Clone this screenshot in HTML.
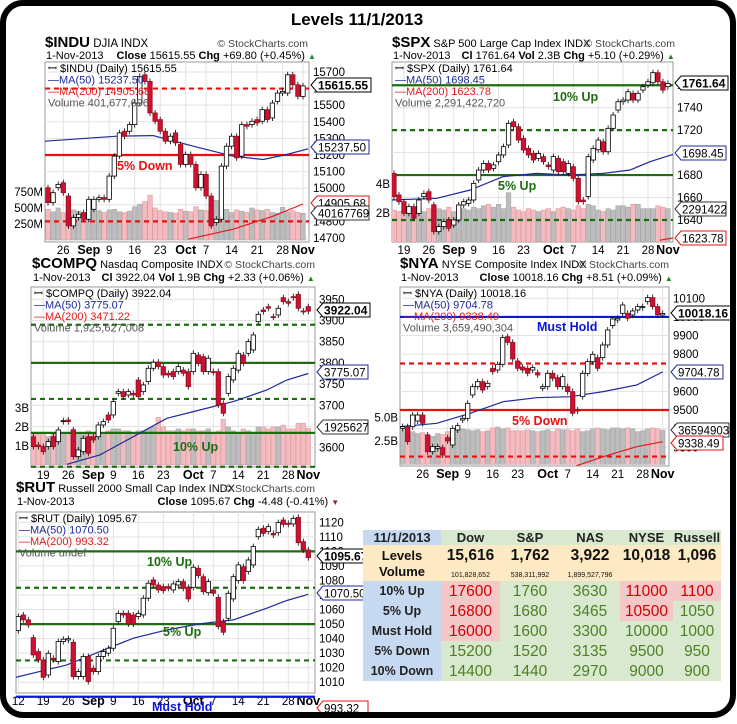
<!DOCTYPE html>
<html><head><meta charset="utf-8">
<style>
body{margin:0;background:#fff;width:737px;height:719px;overflow:hidden;font-family:"Liberation Sans",sans-serif}
#wrap{position:relative;width:737px;height:719px}
svg text{font-family:"Liberation Sans",sans-serif}
#tbl{position:absolute;left:363px;top:530px;width:358px;font-family:"Liberation Sans",sans-serif}
.row{display:flex}
.c{box-sizing:border-box;text-align:center;font-weight:bold}
.lab{width:78px;background:#c6d9f0;color:#222;font-size:12.5px}
.c1{width:59px}.c2{width:60px}.c3{width:60px}.c4{width:53px}.c5{width:48px}
.g{background:#d8e9d0;color:#4e7f23}
.p{background:#f4c8c8;color:#d00000}
.dr .c{height:20px;line-height:21px;font-size:15.5px;font-weight:normal}
.dr .lab{font-weight:bold;font-size:12.5px}
.hd .c{height:15px;line-height:16px;font-size:13px;background:#d8e9d0;color:#222}
.hd .lab{background:#c6d9f0}
.lv .c{height:36px;background:#fde9c4;color:#111}
</style></head><body>
<div id="wrap">
<svg id="s" width="737" height="719" viewBox="0 0 737 719">
<text x="357" y="25" text-anchor="middle" font-size="17" font-weight="bold">Levels 11/1/2013</text>

<g>
<text x="45" y="47" font-size="11.5"><tspan font-size="15" font-weight="bold">$INDU</tspan> DJIA  INDX</text>
<text x="308" y="47" font-size="10.5" text-anchor="end" fill="#444">© StockCharts.com</text>
<text x="46" y="59" font-size="11">1-Nov-2013 <tspan dx="10" font-weight="bold">Close</tspan> 15615.55 <tspan font-weight="bold">Chg</tspan> +69.80 (+0.45%) <tspan fill="#1a8a1a" font-size="8">▲</tspan></text>
</g>
<g>
<text x="392" y="47" font-size="11"><tspan font-size="15" font-weight="bold">$SPX</tspan> S&amp;P 500 Large Cap Index  INDX</text>
<text x="675" y="47" font-size="10.5" text-anchor="end" fill="#444">© StockCharts.com</text>
<text x="393" y="59" font-size="11">1-Nov-2013 <tspan dx="8" font-weight="bold">Cl</tspan> 1761.64 <tspan font-weight="bold">Vol</tspan> 2.3B <tspan font-weight="bold">Chg</tspan> +5.10 (+0.29%) <tspan fill="#1a8a1a" font-size="8">▲</tspan></text>
</g>
<g>
<text x="32" y="268" font-size="11"><tspan font-size="15" font-weight="bold">$COMPQ</tspan> Nasdaq Composite  INDX</text>
<text x="315" y="268" font-size="10.5" text-anchor="end" fill="#444">© StockCharts.com</text>
<text x="33" y="281" font-size="11">1-Nov-2013 <tspan dx="8" font-weight="bold">Cl</tspan> 3922.04 <tspan font-weight="bold">Vol</tspan> 1.9B <tspan font-weight="bold">Chg</tspan> +2.33 (+0.06%) <tspan fill="#1a8a1a" font-size="8">▲</tspan></text>
</g>
<g>
<text x="400" y="268" font-size="11"><tspan font-size="15" font-weight="bold">$NYA</tspan> NYSE Composite Index  INDX</text>
<text x="669" y="268" font-size="10.5" text-anchor="end" fill="#444">© StockCharts.com</text>
<text x="401" y="281" font-size="11">1-Nov-2013 <tspan dx="18" font-weight="bold">Close</tspan> 10018.16 <tspan font-weight="bold">Chg</tspan> +8.51 (+0.09%) <tspan fill="#1a8a1a" font-size="8">▲</tspan></text>
</g>
<g>
<text x="16" y="492" font-size="11"><tspan font-size="15" font-weight="bold">$RUT</tspan> Russell 2000 Small Cap Index  INDX</text>
<text x="315" y="492" font-size="10.5" text-anchor="end" fill="#444">© StockCharts.com</text>
<text x="17" y="505" font-size="11">1-Nov-2013 <tspan dx="80" font-weight="bold">Close</tspan> 1095.67 <tspan font-weight="bold">Chg</tspan> -4.48 (-0.41%) <tspan fill="#a0203a" font-size="8">▼</tspan></text>
</g>
<g id="indu"></g>
<g id="spx"></g>
<g id="compq"></g>
<g id="nya"></g>
<g id="rut"></g>
</svg>

<div id="tbl">
<div class="row hd"><div class="c lab">11/1/2013</div><div class="c c1">Dow</div><div class="c c2">S&amp;P</div><div class="c c3">NAS</div><div class="c c4">NYSE</div><div class="c c5">Russell</div></div>
<div class="row lv">
<div class="c lab" style="background:#fde9c4;font-size:13px;line-height:16px;padding-top:3px">Levels<br>Volume</div>
<div class="c c1"><div style="font-size:15.5px;margin-top:2px">15,616</div><div style="font-size:7px;font-weight:normal;margin-top:7px">101,828,652</div></div>
<div class="c c2"><div style="font-size:15.5px;margin-top:2px">1,762</div><div style="font-size:7px;font-weight:normal;margin-top:7px">538,311,992</div></div>
<div class="c c3"><div style="font-size:15.5px;margin-top:2px">3,922</div><div style="font-size:7px;font-weight:normal;margin-top:7px">1,899,527,796</div></div>
<div class="c c4"><div style="font-size:15.5px;margin-top:2px">10,018</div></div>
<div class="c c5"><div style="font-size:15.5px;margin-top:2px">1,096</div></div>
</div>
<div class="row dr"><div class="c lab">10% Up</div><div class="c c1 p">17600</div><div class="c c2 g">1760</div><div class="c c3 g">3630</div><div class="c c4 p">11000</div><div class="c c5 p">1100</div></div>
<div class="row dr"><div class="c lab">5% Up</div><div class="c c1 p">16800</div><div class="c c2 g">1680</div><div class="c c3 g">3465</div><div class="c c4 p">10500</div><div class="c c5 g">1050</div></div>
<div class="row dr"><div class="c lab">Must Hold</div><div class="c c1 p">16000</div><div class="c c2 g">1600</div><div class="c c3 g">3300</div><div class="c c4 g">10000</div><div class="c c5 g">1000</div></div>
<div class="row dr"><div class="c lab">5% Down</div><div class="c c1 g">15200</div><div class="c c2 g">1520</div><div class="c c3 g">3135</div><div class="c c4 g">9500</div><div class="c c5 g">950</div></div>
<div class="row dr"><div class="c lab">10% Down</div><div class="c c1 g">14400</div><div class="c c2 g">1440</div><div class="c c3 g">2970</div><div class="c c4 g">9000</div><div class="c c5 g">900</div></div>
</div>
</div>

<script>
// ---------- INDU data ----------
const induOpen=[15003,14913,15003,15033,14953,14773,14823,14853,14813,14873,14933,14943,14933,15073,15193,15343,15343,15383,15513,15683,15643,15453,15413,15343,15283,15333,15263,15143,15203,15143,15003,15083,14953,14793,14813,15133,15253,15313,15193,15383,15383,15413,15403,15473,15423,15523,15573,15573,15683,15623,15553];
const induClose=[14913,14973,15023,14973,14773,14823,14843,14813,14933,14933,14943,14933,15073,15193,15333,15313,15383,15513,15673,15643,15453,15403,15343,15283,15313,15273,15143,15203,15143,15003,15083,14953,14773,14813,15133,15253,15313,15183,15383,15373,15403,15393,15473,15413,15513,15573,15583,15683,15623,15553,15616];
const induVol=[480,440,500,430,540,470,450,430,520,500,460,430,470,480,440,430,450,520,560,600,700,500,460,440,430,420,480,450,440,520,470,460,560,620,580,480,430,470,450,430,500,470,460,480,430,420,510,440,460,430,417];
const induMaIdx=[-0.6,13.5,20.6,28.5,36.3,42.2,46.8,51];
const induMaVal=[15283,15313,15317,15253,15193,15173,15203,15237];
const induMa2Idx=[27.5,36.3,44,50];
const induMa2Val=[14693,14753,14830,14905];
const induDateIdx=[3,8,12,17,22,27,31,36,41,46,50];
const induDateLbl=["26","Sep","9","16","23","Oct","7","14","21","28","Nov"];
const induTicks=[14700,14800,14900,15000,15100,15200,15300,15400,15500,15600,15700];
const induLevels=[15600,15200,14800];
const induVolTicks=[250,500,750];
const induVolLbl=["250M","500M","750M"];

// ---------- SPX data ----------
const spxOpen=[1681.5,1662.3,1656.3,1645.9,1651.9,1645.9,1660.8,1665.2,1653.4,1629.6,1634.1,1640,1635.5,1640,1653.4,1654.8,1657.8,1675.6,1684.5,1690.4,1686,1691.9,1697.9,1706.8,1727.5,1723.1,1712.7,1703.8,1699.3,1694.9,1696.4,1689,1684.5,1694.9,1691.9,1681.5,1687.5,1677.1,1657.8,1661,1693.4,1702.5,1709.7,1700.8,1721.6,1737.9,1745.3,1746.8,1752.8,1746.8,1755.7,1760.2,1762.3,1771.2,1763.1,1758.7];
const spxClose=[1660.8,1656.3,1645.9,1651.9,1641.5,1657.8,1663.7,1657.8,1629.6,1634.1,1638.5,1632.6,1640,1653.4,1656.3,1657.8,1672.6,1684.5,1690.4,1684.5,1689,1697.9,1705.3,1726.1,1723.1,1711.2,1702.3,1697.9,1693.4,1699.3,1691.9,1687.5,1696.4,1683,1683,1690.4,1677.1,1656.3,1656.3,1696.4,1703.8,1711.2,1700.8,1721.6,1733.5,1745.3,1746.8,1754.2,1746.8,1752.8,1758.7,1763.1,1771.2,1763.1,1755.7,1761.64];
const spxVol=[2.2,2.1,2.3,2.2,2.4,2.2,2.1,2.3,2.6,2.3,2.2,2.4,2.1,2.2,2.3,2.2,2.4,2.3,2.5,2.6,2.4,2.6,2.3,3.4,2.4,2.2,2.1,2.3,2.2,2.1,2.2,2.3,2.1,2.3,2.4,2.3,2.2,2.5,2.3,2.6,2.5,2.2,2.1,2.3,2.2,2.5,2.5,2.4,2.6,2.6,2.3,2.3,2.3,2.5,2.4,2.3];
const spxMaIdx=[-0.5,8.6,15.3,21.9,28.7,35.3,42,47.4,51.4,56.1];
const spxMaVal=[1657.8,1659.3,1666.7,1678.6,1681.5,1680,1681.5,1684.5,1691.9,1698.5];
const spxMa2Idx=[53.4,56];
const spxMa2Val=[1622,1624];
const spxDateIdx=[2,7,12,16,21,26,32,36,41,46,51,55];
const spxDateLbl=["19","26","Sep","9","16","23","Oct","7","14","21","28","Nov"];
const spxTicks=[1640,1660,1680,1700,1720,1740,1760];
const spxLevels=[1760,1720,1680,1640];
const spxVolTicks=[2,4];
const spxVolLbl=["2B","4B"];

// ---------- COMPQ data ----------
const compqOpen=[3626,3606.4,3602.5,3602.5,3626,3614.3,3661.5,3665.4,3641.8,3579,3590.7,3626,3626,3626,3653.6,3677.2,3677.2,3728.3,3732.2,3724.4,3728.3,3759.7,3732.2,3755.8,3787.3,3802,3791.2,3775.5,3779.4,3779.4,3783,3779.4,3779.4,3818.7,3814.7,3779.4,3779.4,3779.4,3704.7,3728.3,3759.7,3783,3818.7,3822.6,3830.5,3897.3,3924.8,3932.7,3909.1,3913,3953.9,3944.5,3956.3,3961.8,3922.5,3932.7];
const compqClose=[3602.5,3602.5,3590.7,3614.3,3602.5,3641.8,3663.8,3661.5,3579,3594.7,3622.2,3586.8,3618.2,3653.6,3661.5,3665.4,3708.7,3732.2,3720.4,3732.2,3724.4,3720.4,3748,3787.3,3801.4,3791.2,3771.5,3771.5,3767.6,3791.2,3775.5,3744,3822.6,3799.1,3779.4,3811,3777.8,3700.8,3681.1,3767.6,3787.3,3822.6,3799.1,3850.1,3865.9,3914.6,3920.9,3928.8,3908.3,3928.8,3944.5,3940.6,3953.9,3928.8,3920.9,3922.04];
const compqVol=[1.7,1.6,1.6,1.5,1.7,1.6,1.7,1.6,1.9,1.7,1.6,1.8,1.7,1.6,1.7,1.8,1.9,1.9,1.8,1.8,1.7,1.8,1.8,1.9,2.0,2.5,2.0,1.8,1.8,1.9,1.8,1.9,1.9,1.8,1.8,1.9,1.7,1.8,2.4,2.0,1.8,1.7,1.9,1.8,1.6,2.0,2.0,1.9,2.0,2.0,2.1,1.9,1.9,2.2,2.2,1.93];
const compqMaIdx=[6.7,13.3,20,26.7,33.3,40,46.7,50.7,55];
const compqMaVal=[3560.8,3582.9,3626,3669.3,3689,3708.7,3736.2,3759.7,3775.1];
const compqMa2Idx=[];
const compqMa2Val=[];
const compqDateIdx=[2,7,12,16,21,26,32,36,41,46,51,55];
const compqDateLbl=["19","26","Sep","9","16","23","Oct","7","14","21","28","Nov"];
const compqTicks=[3600,3650,3700,3750,3800,3850,3900,3950];
const compqLevels=[3890,3800,3715,3635,3555];
const compqVolTicks=[1,2,3];
const compqVolLbl=["1B","2B","3B"];

// ---------- NYA data ----------
const nyaOpen=[9401.7,9410.7,9410.7,9441.1,9473.3,9365.9,9276.4,9294.3,9297.9,9351.6,9312.2,9392.8,9446.5,9455.4,9580.8,9625.5,9652.4,9625.5,9724,9715,9745.5,9894.1,9863.7,9763.4,9731.2,9724,9715,9700.7,9616.6,9625.5,9697.1,9673.9,9625.5,9625.5,9598.7,9500.2,9571.8,9697.1,9759.8,9781.3,9781.3,9849.3,9953.2,9983.6,10019.4,10019.4,10010.5,10037.3,10049.9,10082.1,10103.6,10055.2,10010.5];
const nyaClose=[9410.7,9330,9473.3,9473.3,9428.6,9276.4,9303.2,9303.2,9258.5,9333.7,9401.7,9416,9455.4,9536,9625.5,9652.4,9607.6,9643.4,9706.1,9745.5,9888.7,9863.7,9774.1,9724,9715,9697.1,9727.6,9688.2,9625.5,9697.1,9670.3,9625.5,9679.2,9598.7,9482.3,9494.8,9697.1,9759.8,9799.2,9724,9849.3,9929.9,9989,9992.6,10064.2,9992.6,10032,10055.2,10055.2,10103.6,10055.2,10010.5,10018.16];
const nyaVol=[3.7,3.6,3.5,3.3,3.4,3.2,3.0,3.3,3.2,3.5,3.6,3.8,3.8,3.7,3.6,3.7,3.5,3.6,3.9,4.0,3.8,3.9,3.6,3.6,3.6,3.7,3.6,3.5,3.6,3.7,3.5,3.8,3.7,3.7,3.6,3.8,3.5,3.6,3.8,3.9,3.8,3.7,3.9,3.9,3.8,3.9,3.8,3.5,3.6,3.8,3.9,3.8,3.66];
const nyaMaIdx=[-0.5,6.8,13.5,20.1,26.8,33.5,40.1,46.8,52];
const nyaMaVal=[9410.7,9428.6,9482.3,9544.9,9566.4,9571.8,9598.7,9634.5,9704.8];
const nyaMa2Idx=[34.8,40.1,46.8,52];
const nyaMa2Val=[9201.2,9249.5,9303.2,9330.1];
const nyaDateIdx=[4,9,13,18,23,29,33,38,43,48,52];
const nyaDateLbl=["26","Sep","9","16","23","Oct","7","14","21","28","Nov"];
const nyaTicks=[9300,9400,9500,9600,9700,9800,9900,10000,10100];
const nyaLevels=[10000,9750,9500,9250];
const nyaVolTicks=[2.5,5];
const nyaVolLbl=["2.5B","5.0B"];

// ---------- RUT data ----------
const rutOpen=[1045.5,1056.3,1052.9,1040.7,1031.1,1025.4,1015,1026.5,1024.2,1038,1039.1,1037.5,1013.9,1013.9,1027.7,1019.6,1017.3,1027.7,1030,1033.4,1051.7,1057.4,1057.4,1056.3,1055.2,1056.3,1067.8,1080.4,1076.9,1075.8,1075.8,1073.5,1076.9,1079.2,1075.3,1075.3,1088.4,1082.6,1071.6,1073.5,1068.4,1051.7,1054,1067.3,1079.9,1089.5,1086.1,1090.7,1110.1,1115.9,1113.6,1112.4,1112.9,1121.6,1119.3,1118.9,1123.4,1106.7,1101];
const rutClose=[1055.2,1052.9,1049.4,1028.8,1025.4,1013.4,1029.9,1025.4,1038,1039.6,1040,1013.9,1017.3,1027.7,1010.5,1017.3,1027.7,1031.1,1033.4,1047.1,1057.4,1056.3,1050.1,1050.1,1057.4,1067.8,1078.1,1076.9,1073.5,1073,1074.6,1077.6,1079.2,1074.6,1067.3,1089.1,1083.3,1072.3,1079.2,1071.2,1048.3,1044.4,1071.2,1082.6,1090.7,1079.9,1094.1,1103.3,1115.2,1112.4,1117,1111.3,1119.8,1118.6,1118.6,1122.7,1106,1101,1095.67];
const rutVol=null;
const rutMaIdx=[-0.5,9.7,16.3,23,29.7,36.3,43,49.7,53.7,58];
const rutMaVal=[1013.4,1021.9,1031.1,1040.3,1046,1050.1,1052.9,1060.9,1066.2,1070.5];
const rutMa2Idx=[];
const rutMa2Val=[];
const rutDateIdx=[0,5,10,15,19,24,29,35,39,44,49,54,58];
const rutDateLbl=["12","19","26","Sep","9","16","23","Oct","7","14","21","28","Nov"];
const rutTicks=[1010,1020,1030,1040,1050,1060,1070,1080,1090,1100,1110,1120];
const rutLevels=[1100,1075,1050,1025,1000];
const rutVolTicks=[];
const rutVolLbl=[];

const NS="http://www.w3.org/2000/svg";
function mk(tag,attrs,parent){const e=document.createElementNS(NS,tag);for(const k in attrs)e.setAttribute(k,attrs[k]);parent.appendChild(e);return e;}

function drawChart(c,D){
  const g=document.getElementById(c.id);
  const X=i=>c.x0+i*c.step;
  const Y=p=>c.top+(c.pMax-p)/(c.pMax-c.pMin)*(c.bottom-c.top);
  const bg=mk('rect',{x:c.left,y:c.top,width:c.right-c.left,height:c.bottom-c.top,fill:'#fff',stroke:'#999','stroke-width':1},g);
  
  
  const cp=mk('clipPath',{id:c.id+'-clip'},g);
  mk('rect',{x:c.left,y:c.top,width:c.right-c.left,height:c.bottom-c.top},cp);
  const inner=mk('g',{'clip-path':'url(#'+c.id+'-clip)'},g);
  D.ticks.forEach(t=>{
    const y=Y(t);
    const gl=mk('line',{x1:c.left,x2:c.right,y1:y,y2:y,stroke:'#e2e2e2'},inner);
    
    
    const tx=mk('text',{x:c.right+4,y:y+4,'font-size':11.5},g);
    tx.textContent=t;
    
    
  });
  D.dI.forEach((d,k)=>{
    const x=X(d);
    const gl=mk('line',{x1:x,x2:x,y1:c.top,y2:c.bottom,stroke:'#e2e2e2'},inner);
    
    
    const lb=D.dL[k];
    const tx=mk('text',{x:x,y:c.bottom+12,'font-size':lb.length>2?12.5:11.5,'text-anchor':'middle','font-weight':lb.length>2?'bold':'normal'},g);
    tx.textContent=lb;
    
    
  });
  if(D.v){
    D.v.forEach((v,i)=>{
      const down=D.c[i]<D.o[i];
      const h=v*c.volPx;
      const r=mk('rect',{x:X(i)-2.3,y:c.volZero-h,width:4.6,height:h,fill:down?'#f2bcc0':'#bdbdbd',stroke:down?'#e39aa0':'#a8a8a8','stroke-width':0.6},inner);
      
      
    });
    D.vt.forEach((t,k)=>{
      const tx=mk('text',{x:c.left-2,y:c.volZero-t*c.volPx+4,'font-size':11.5,'text-anchor':'end'},g);
      tx.textContent=D.vl[k];
      
      
    });
  }
  D.levels.forEach((p,k)=>{
    const st=c.levelStyle[k];
    const y=Y(p);
    const ln=mk('line',{x1:c.left,x2:c.right,y1:y,y2:y,stroke:st.col,'stroke-width':2.2,'stroke-dasharray':st.dash?'5,4':'none'},st.noclip?g:inner);
    
    
  });
  function poly(I,V,col,name){
    if(!I.length)return;
    const pts=I.map((ix,k)=>X(ix).toFixed(1)+','+Y(V[k]).toFixed(1)).join(' ');
    const pl=mk('polyline',{points:pts,fill:'none',stroke:col,'stroke-width':1.2},inner);
    
    
  }
  poly(D.maI,D.maV,'#1f2a9a','ma50-line');
  poly(D.ma2I,D.ma2V,'#e21b1b','ma200-line');
  D.o.forEach((o,i)=>{
    const cl=D.c[i];
    const up=cl>=o;
    const y1=Y(Math.max(o,cl)),y2=Y(Math.min(o,cl));
    const x=X(i);
    const w=mk('line',{x1:x,x2:x,y1:y1-3,y2:y2+3,stroke:'#000','stroke-width':0.8},inner);
    
    
    const r=mk('rect',{x:x-2.2,y:y1,width:4.4,height:Math.max(1,y2-y1),fill:up?'#fff':'#cc1133',stroke:up?'#000':'#991020','stroke-width':0.8},inner);
    
    
  });
  c.legend.forEach((L,k)=>{
    const tx=mk('text',{x:c.left+3,y:c.top+10+k*11.5,'font-size':11,fill:L.col},g);
    tx.textContent=L.t;
    
    
  });
  c.labels.forEach(L=>{
    const tx=mk('text',{x:L.x,y:L.y,'font-size':12.5,'font-weight':'bold',fill:L.col},g);
    tx.textContent=L.t;
    
    
  });
  c.boxes.forEach(B=>{
    const x=c.right+2,w=B.w||52,y=B.y;
    const pg=mk('polygon',{points:`${x},${y} ${x+6},${y-7} ${x+6+w},${y-7} ${x+6+w},${y+7} ${x+6},${y+7}`,fill:'#fff',stroke:B.col,'stroke-width':1},g);
    
    
    const tx=mk('text',{x:x+7,y:y+4.5,'font-size':B.b?12:11.5,'font-weight':B.b?'bold':'normal',fill:'#000'},g);
    tx.textContent=B.t;
    
    
  });
}

const red='#e81010',grn='#1f6b12',blu='#0a16e0';
drawChart({id:'indu',x0:48,step:5.1,left:45,right:309,top:62,bottom:242,pMax:15760,pMin:14676,volZero:240,volPx:0.064,
  levelStyle:[{col:red,dash:1},{col:red},{col:red,dash:1}],
  legend:[{t:'ꟷ $INDU (Daily) 15615.55',col:'#000'},{t:'—MA(50) 15237.50',col:'#1f2a9a'},{t:'—MA(200) 14905.68',col:'#e21b1b'},{t:'Volume 401,677,696',col:'#555'}],
  labels:[{t:'5% Down',x:117,y:170,col:red}],
  boxes:[{t:'15615.55',y:85,col:'#000',b:1,w:54},{t:'15237.50',y:147,col:'#1f2a9a',w:52},{t:'14905.68',y:203,col:red,w:52},{t:'40167769',y:213,col:'#333',w:52}]},
  {o:induOpen,c:induClose,v:induVol,maI:induMaIdx,maV:induMaVal,ma2I:induMa2Idx,ma2V:induMa2Val,dI:induDateIdx,dL:induDateLbl,ticks:induTicks,levels:induLevels,vt:induVolTicks,vl:induVolLbl});

drawChart({id:'spx',x0:394,step:4.98,left:392,right:673,top:62,bottom:242,pMax:1780.7,pMin:1620.4,volZero:242,volPx:14.5,
  levelStyle:[{col:grn},{col:grn,dash:1},{col:grn},{col:grn,dash:1}],
  legend:[{t:'ꟷ $SPX (Daily) 1761.64',col:'#000'},{t:'—MA(50) 1698.45',col:'#1f2a9a'},{t:'—MA(200) 1623.78',col:'#e21b1b'},{t:'Volume 2,291,422,720',col:'#555'}],
  labels:[{t:'10% Up',x:553,y:101,col:grn},{t:'5% Up',x:498,y:190,col:grn}],
  boxes:[{t:'1761.64',y:83,col:'#000',b:1,w:47},{t:'1698.45',y:153,col:'#1f2a9a',w:45},{t:'2291422',y:209,col:'#333',w:45},{t:'1623.78',y:238,col:red,w:45}]},
  {o:spxOpen,c:spxClose,v:spxVol,maI:spxMaIdx,maV:spxMaVal,ma2I:spxMa2Idx,ma2V:spxMa2Val,dI:spxDateIdx,dL:spxDateLbl,ticks:spxTicks,levels:spxLevels,vt:spxVolTicks,vl:spxVolLbl});

drawChart({id:'compq',x0:33.3,step:5,left:31,right:315,top:287,bottom:467,pMax:3979,pMin:3554.5,volZero:465,volPx:19,
  levelStyle:[{col:grn,dash:1},{col:grn},{col:grn,dash:1},{col:grn},{col:grn,dash:1,noclip:1}],
  legend:[{t:'ꟷ $COMPQ (Daily) 3922.04',col:'#000'},{t:'—MA(50) 3775.07',col:'#1f2a9a'},{t:'—MA(200) 3471.22',col:'#e21b1b'},{t:'Volume 1,925,627,008',col:'#555'}],
  labels:[{t:'10% Up',x:173,y:451,col:grn}],
  boxes:[{t:'3922.04',y:310,col:'#000',b:1,w:47},{t:'3775.07',y:372,col:'#1f2a9a',w:45},{t:'1925627',y:427,col:'#333',w:45}]},
  {o:compqOpen,c:compqClose,v:compqVol,maI:compqMaIdx,maV:compqMaVal,ma2I:compqMa2Idx,ma2V:compqMa2Val,dI:compqDateIdx,dL:compqDateLbl,ticks:compqTicks,levels:compqLevels,vt:compqVolTicks,vl:compqVolLbl});

drawChart({id:'nya',x0:402.7,step:5,left:400,right:669,top:287,bottom:466,pMax:10160.7,pMin:9199.4,volZero:464.3,volPx:9.32,
  levelStyle:[{col:blu},{col:red,dash:1},{col:red},{col:red,dash:1}],
  legend:[{t:'ꟷ $NYA (Daily) 10018.16',col:'#000'},{t:'—MA(50) 9704.78',col:'#1f2a9a'},{t:'—MA(200) 9338.49',col:'#e21b1b'},{t:'Volume 3,659,490,304',col:'#555'}],
  labels:[{t:'Must Hold',x:537,y:331,col:blu},{t:'5% Down',x:512,y:425,col:red}],
  boxes:[{t:'10018.16',y:313,col:'#000',b:1,w:54},{t:'9704.78',y:372,col:'#1f2a9a',w:46},{t:'36594903',y:430,col:'#333',w:52},{t:'9338.49',y:443,col:red,w:46}]},
  {o:nyaOpen,c:nyaClose,v:nyaVol,maI:nyaMaIdx,maV:nyaMaVal,ma2I:nyaMa2Idx,ma2V:nyaMa2Val,dI:nyaDateIdx,dL:nyaDateLbl,ticks:nyaTicks,levels:nyaLevels,vt:nyaVolTicks,vl:nyaVolLbl});

drawChart({id:'rut',x0:18.3,step:5,left:16,right:315,top:512,bottom:693,pMax:1127.1,pMin:1002.6,volZero:693,volPx:0,
  levelStyle:[{col:grn},{col:grn,dash:1},{col:grn},{col:grn,dash:1},{col:blu,noclip:1}],
  legend:[{t:'ꟷ $RUT (Daily) 1095.67',col:'#000'},{t:'—MA(50) 1070.50',col:'#1f2a9a'},{t:'—MA(200) 993.32',col:'#e21b1b'},{t:'Volume undef',col:'#555'}],
  labels:[{t:'10% Up',x:147,y:566,col:grn},{t:'5% Up',x:163,y:636,col:grn},{t:'Must Hold',x:152,y:711,col:blu}],
  boxes:[{t:'1095.67',y:556,col:'#000',b:1,w:47},{t:'1070.50',y:593,col:'#1f2a9a',w:45},{t:'993.32',y:708,col:red,w:45}]},
  {o:rutOpen,c:rutClose,v:rutVol,maI:rutMaIdx,maV:rutMaVal,ma2I:rutMa2Idx,ma2V:rutMa2Val,dI:rutDateIdx,dL:rutDateLbl,ticks:rutTicks,levels:rutLevels,vt:rutVolTicks,vl:rutVolLbl});

const s=document.getElementById('s');
const fr=mk('rect',{x:3,y:3,width:730,height:712,rx:20,fill:'none',stroke:'#000','stroke-width':6},s);


</script>
</body></html>
